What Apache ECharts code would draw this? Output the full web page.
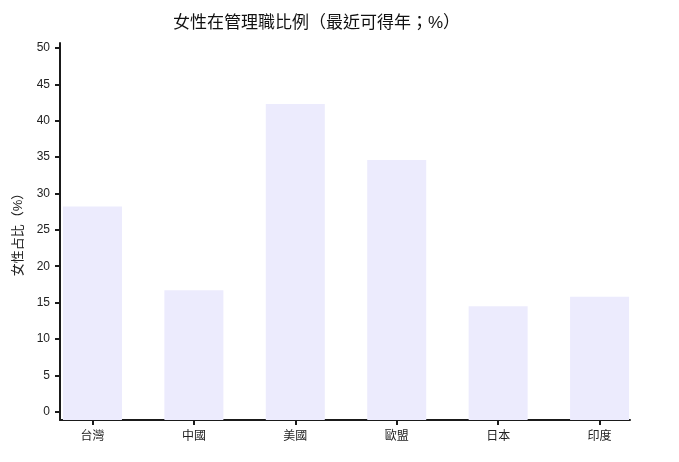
<!DOCTYPE html>
<html>
<head>
<meta charset="utf-8">
<script src="https://cdn.jsdelivr.net/npm/echarts@6/dist/echarts.min.js"></script>
<style>html,body{margin:0;padding:0;background:#fff;}#c{width:679px;height:462px;}</style>
</head>
<body>
<div id="c"></div>
<script>
const categories = ['台灣', '中國', '美國', '歐盟', '日本', '印度'];
const values = [28.2, 16.7, 42.3, 34.6, 14.5, 15.8];
const yTicks = [0, 5, 10, 15, 20, 25, 30, 35, 40, 45, 50];
const titleText = '女性在管理職比例（最近可得年；%）';
const yName = '女性占比（%）';

const font = "'Liberation Sans', 'Noto Sans CJK TC', sans-serif";
const chart = echarts.init(document.getElementById('c'));
chart.setOption({
  animation: false,
  title: {
    text: titleText,
    left: 168,
    top: 10,
    textStyle: { fontFamily: font, fontSize: 17, fontWeight: 'normal', color: '#111' }
  },
  grid: { left: 60, right: 49, top: 43, bottom: 42 },
  xAxis: {
    type: 'value',
    min: -0.32,
    max: 5.3,
    splitLine: { show: false },
    axisLine: { onZero: false, lineStyle: { color: '#1a1a1a', width: 2 } },
    axisTick: { show: true, length: 5, customValues: categories.map((c, i) => i), lineStyle: { color: '#1a1a1a', width: 2 } },
    axisLabel: {
      customValues: categories.map((c, i) => i),
      formatter: v => categories[Math.round(v)],
      margin: 11,
      fontFamily: font, fontSize: 12, color: '#222'
    }
  },
  yAxis: {
    type: 'value',
    min: -1.15,
    max: 50.7,
    startValue: -1.15,
    name: yName,
    nameLocation: 'middle',
    nameGap: 35,
    nameTextStyle: { fontFamily: font, fontSize: 13, color: '#222' },
    splitLine: { show: false },
    axisLine: { show: true, onZero: false, lineStyle: { color: '#1a1a1a', width: 2 } },
    axisTick: { show: true, length: 5, customValues: yTicks, lineStyle: { color: '#1a1a1a', width: 2 } },
    axisLabel: { customValues: yTicks, margin: 10, fontFamily: font, fontSize: 12, color: '#222' }
  },
  series: [{
    type: 'bar',
    barWidth: 59,
    data: values.map((v, i) => [i, v]),
    itemStyle: { color: '#ECEBFD' }
  }]
});
</script>
</body>
</html>
